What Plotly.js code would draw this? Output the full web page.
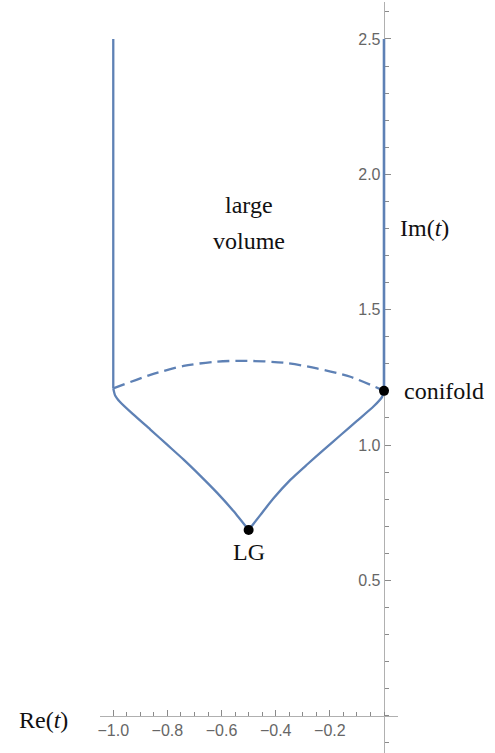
<!DOCTYPE html>
<html>
<head>
<meta charset="utf-8">
<script src="https://cdn.plot.ly/plotly-3.0.1.min.js"></script>
<style>
  html, body { margin: 0; padding: 0; background: #fff; }
  #chart { width: 495px; height: 753px; }
</style>
</head>
<body>
<div id="chart"></div>
<script>
// Boundary of the large-volume region in the complex t-plane
const edgeLeftX = [-1, -1];
const edgeLeftY = [1.209, 2.5];
const edgeRightX = [0, 0];
const edgeRightY = [1.2, 2.5];

// Dashed arc joining the two edges
const arcX = [-1.0, -0.863, -0.740, -0.617, -0.519, -0.371, -0.248, -0.124, 0.0];
const arcY = [1.209, 1.259, 1.292, 1.308, 1.311, 1.304, 1.283, 1.252, 1.2];

// Curves running down to the LG point
const lowerLeftX = [-1.0, -0.993, -0.974, -0.925, -0.863, -0.802, -0.740, -0.679, -0.617, -0.556, -0.5];
const lowerLeftY = [1.209, 1.183, 1.158, 1.112, 1.057, 1.002, 0.946, 0.887, 0.824, 0.756, 0.686];
const lowerRightX = [-0.5, -0.457, -0.408, -0.346, -0.284, -0.223, -0.161, -0.100, -0.038, -0.007, 0.0];
const lowerRightY = [0.686, 0.741, 0.803, 0.871, 0.928, 0.982, 1.036, 1.089, 1.143, 1.178, 1.2];

// Special points
const pointX = [0, -0.5];
const pointY = [1.2, 0.686];
const pointLabels = ['conifold', 'LG'];

// Axis ticks
const xTickVals = [-1.0, -0.8, -0.6, -0.4, -0.2];
const xTickText = ['\u22121.0', '\u22120.8', '\u22120.6', '\u22120.4', '\u22120.2'];
const yTickVals = [0.5, 1.0, 1.5, 2.0, 2.5];
const yTickText = ['0.5', '1.0', '1.5', '2.0', '2.5'];

const blue = '#5E81B5';
const W = 495, H = 753;
const serif = 'Liberation Serif, Times New Roman, serif';

const solid = (x, y, w) => ({
  x: x, y: y, type: 'scatter', mode: 'lines',
  line: { color: blue, width: w || 2.3, shape: 'spline', smoothing: 0.6 },
  hoverinfo: 'skip', cliponaxis: false
});

const traces = [
  solid(edgeLeftX, edgeLeftY),
  solid(edgeRightX, edgeRightY, 2.6),
  solid(lowerLeftX, lowerLeftY),
  solid(lowerRightX, lowerRightY),
  {
    x: arcX, y: arcY, type: 'scatter', mode: 'lines',
    line: { color: blue, width: 2.3, dash: '12px,6px', shape: 'spline', smoothing: 0.8 },
    hoverinfo: 'skip'
  },
  {
    x: pointX, y: pointY, type: 'scatter', mode: 'markers',
    marker: { color: '#000', size: 10 }, cliponaxis: false, hoverinfo: 'skip'
  }
];

const tickFont = { family: 'Liberation Sans, Arial, sans-serif', size: 16, color: '#666' };
const axisCommon = {
  showgrid: false, zeroline: false, showline: true,
  linecolor: '#b0b0b0', linewidth: 1.2,
  ticks: 'inside', ticklen: 6, tickwidth: 1, tickcolor: '#8a8a8a',
  tickmode: 'array', tickfont: tickFont, fixedrange: true,
  anchor: 'free', layer: 'below traces'
};

const layout = {
  width: W, height: H,
  margin: { l: 0, r: 0, t: 0, b: 0 },
  paper_bgcolor: '#fff', plot_bgcolor: '#fff',
  showlegend: false,
  xaxis: Object.assign({}, axisCommon, {
    domain: [100 / W, 398 / W],
    range: [-1.049, 0.0517],
    position: (H - 715.7) / H,
    tickvals: xTickVals, ticktext: xTickText,
    minor: { tickmode: 'linear', tick0: 0, dtick: 0.05, ticks: 'inside', ticklen: 4, tickcolor: '#8a8a8a', showgrid: false }
  }),
  yaxis: Object.assign({}, axisCommon, {
    domain: [0, 1 - 2 / H],
    range: [-0.1378, 2.6365],
    position: 383.7 / W,
    tickvals: yTickVals, ticktext: yTickText,
    minor: { tickmode: 'linear', tick0: 0, dtick: 0.1, ticks: 'inside', ticklen: 4, tickcolor: '#8a8a8a', showgrid: false }
  }),
  annotations: [
    { xref: 'paper', yref: 'paper', x: 249 / W, y: 1 - 205 / H, text: 'large',
      showarrow: false, xanchor: 'center', yanchor: 'middle', font: { family: serif, size: 24, color: '#111' } },
    { xref: 'paper', yref: 'paper', x: 249 / W, y: 1 - 241 / H, text: 'volume',
      showarrow: false, xanchor: 'center', yanchor: 'middle', font: { family: serif, size: 24, color: '#111' } },
    { xref: 'paper', yref: 'paper', x: 398 / W, y: 1 - 228 / H, text: 'Im(<i>t</i>)',
      showarrow: false, xanchor: 'left', yanchor: 'middle', font: { family: serif, size: 24, color: '#111' } },
    { xref: 'paper', yref: 'paper', x: 43 / W, y: 1 - 720 / H, text: 'Re(<i>t</i>)',
      showarrow: false, xanchor: 'center', yanchor: 'middle', font: { family: serif, size: 24, color: '#111' } },
    { xref: 'x', yref: 'y', x: pointX[0], y: pointY[0], text: pointLabels[0],
      showarrow: false, xanchor: 'left', yanchor: 'middle', xshift: 18, font: { family: serif, size: 24, color: '#111' } },
    { xref: 'x', yref: 'y', x: pointX[1], y: pointY[1], text: pointLabels[1],
      showarrow: false, xanchor: 'center', yanchor: 'middle', yshift: -22, font: { family: serif, size: 24, color: '#111' } }
  ]
};

Plotly.newPlot('chart', traces, layout, { staticPlot: true, displayModeBar: false });
</script>
</body>
</html>
